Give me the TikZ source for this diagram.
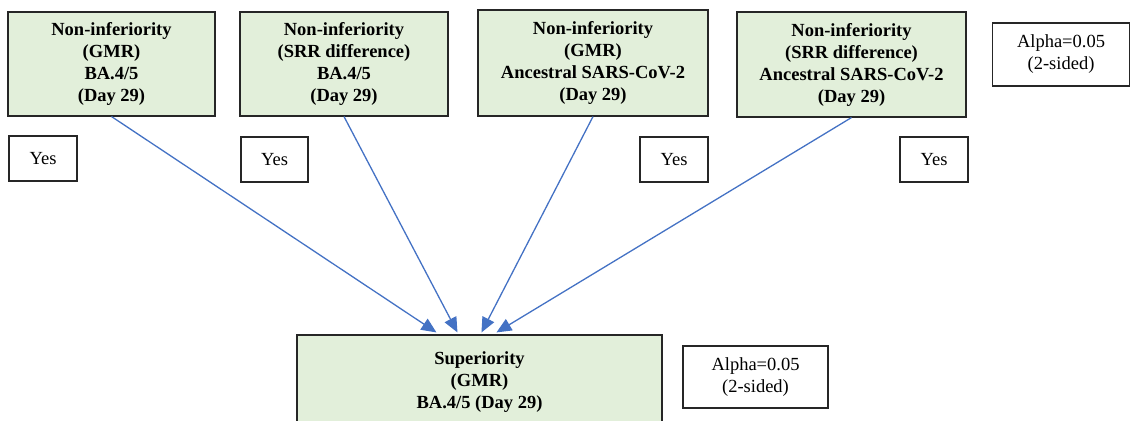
\documentclass[tikz,border=0pt]{standalone}
\usepackage{fontspec}
\setmainfont{Liberation Serif}
\usetikzlibrary{arrows.meta}
\definecolor{boxgreen}{HTML}{E2EFDA}
\definecolor{linkblue}{HTML}{4472C4}

\begin{document}
\begin{tikzpicture}[x=1pt,y=-1pt,
    every node/.style={align=center,inner sep=0pt,font=\fontsize{18.5}{22}\selectfont},
    test/.style={rectangle,draw=black!85,line width=1.1pt,fill=boxgreen,font=\fontsize{18.5}{22}\selectfont\bfseries},
    note/.style={rectangle,draw=black!85,line width=1.1pt,fill=white},
    link/.style={draw=linkblue,line width=1.3pt,-{Triangle[length=15pt,width=13pt,fill=linkblue]}}]
            \clip (0,0) rectangle (1131,420);
            % hypotheses tested first
            \node[test,minimum width=207pt,minimum height=104pt] (nigmr) at (111.5,64) {Non-inferiority\\(GMR)\\BA.4/5\\(Day 29)};
            \node[test,minimum width=208pt,minimum height=104pt] (nisrr) at (344,64) {Non-inferiority\\(SRR difference)\\BA.4/5\\(Day 29)};
            \node[test,minimum width=230pt,minimum height=106pt] (nigmranc) at (593,63) {Non-inferiority\\(GMR)\\Ancestral SARS-CoV-2\\(Day 29)};
            \node[test,minimum width=229pt,minimum height=105pt] (nisrranc) at (851.5,64.5) {Non-inferiority\\(SRR difference)\\Ancestral SARS-CoV-2\\(Day 29)};
            \node[note,minimum width=137pt,minimum height=63pt] (alphatop) at (1061,54.5) {Alpha=0.05\\(2-sided)};
            % yes labels
            \node[note,minimum width=68pt,minimum height=45pt] (yes1) at (43,158.5) {Yes};
            \node[note,minimum width=67pt,minimum height=45pt] (yes2) at (274.5,159.5) {Yes};
            \node[note,minimum width=68pt,minimum height=45pt] (yes3) at (674,159.5) {Yes};
            \node[note,minimum width=68pt,minimum height=45pt] (yes4) at (934,159.5) {Yes};
            % final hypothesis
            \node[test,minimum width=365pt,minimum height=104pt,text depth=14pt] (sup) at (479.5,387) {Superiority\\(GMR)\\BA.4/5 (Day 29)};
            \node[note,minimum width=145pt,minimum height=62pt] (alphabot) at (755.5,377) {Alpha=0.05\\(2-sided)};
            \draw[link] (nigmr.south) -- ([xshift=140pt,yshift=2pt]sup.north west);
            \draw[link] (nisrr.south) -- ([xshift=161pt,yshift=2pt]sup.north west);
            \draw[link] (nigmranc.south) -- ([xshift=185pt,yshift=2pt]sup.north west);
            \draw[link] (nisrranc.south) -- ([xshift=200pt,yshift=2pt]sup.north west);
\end{tikzpicture}
\end{document}
